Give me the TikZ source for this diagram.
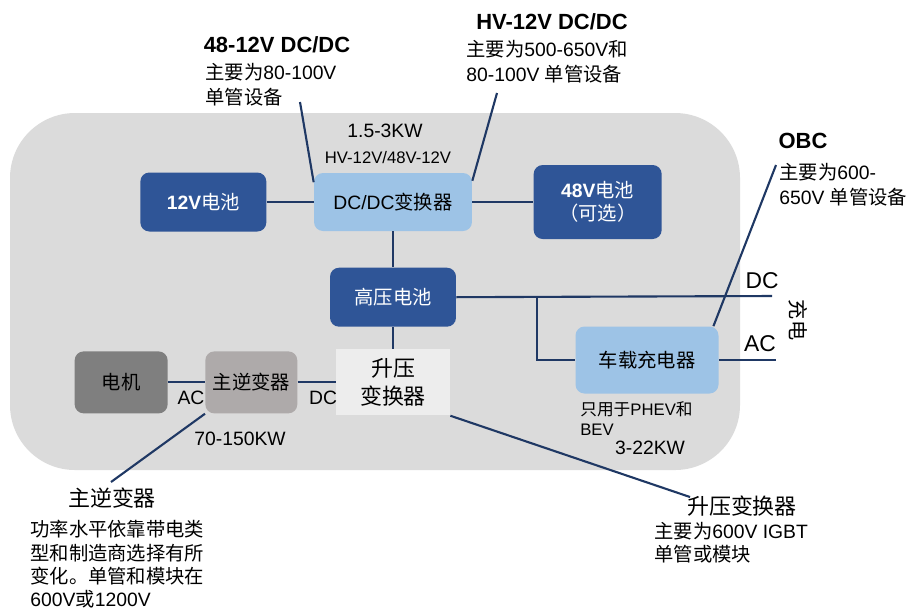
\documentclass[tikz,border=0pt]{standalone}
\usepackage{fontspec}
\setmainfont{Liberation Sans}
\newfontfamily\cjk{Noto Sans CJK SC}
\usepackage{xcolor}
\usepackage{tikz}
\usetikzlibrary{positioning}

\definecolor{boxblue}{HTML}{2F5597}
\definecolor{lightblue}{HTML}{9DC3E6}
\definecolor{bggray}{HTML}{DBDBDB}
\definecolor{boostgray}{HTML}{EDEDED}
\definecolor{invgray}{HTML}{AEAAAA}
\definecolor{motorgray}{HTML}{7F7F7F}
\definecolor{navy}{HTML}{1F3864}

\begin{document}
\begin{tikzpicture}[
    x=0.02cm, y=-0.02cm,
    font=\fontsize{11}{13}\selectfont,
    darkbox/.style={rectangle, rounded corners=0.18cm, fill=boxblue, text=white, align=center, inner sep=0pt},
    lightbox/.style={rectangle, rounded corners=0.18cm, fill=lightblue, align=center, inner sep=0pt},
    greybox/.style={rectangle, rounded corners=0.18cm, minimum height=1.24cm, inner sep=0pt},
    note/.style={align=left, inner sep=0pt, anchor=north west, font=\fontsize{11}{14}\selectfont},
    title/.style={font=\fontsize{12.5}{15}\selectfont\bfseries},
    cjktitle/.style={font=\cjk\fontsize{12.5}{15}\selectfont},
    wire/.style={draw=navy, line width=1.2pt}
]
\useasboundingbox (0,0) rectangle (908,610);

% vehicle outline
\fill[bggray, rounded corners=1.3cm] (10,113) rectangle (740,470);

% blocks
\node[lightbox, minimum width=3.16cm, minimum height=1.16cm] (dcdc) at (393,202) {DC/DC{\cjk 变换器}};
\node[darkbox, minimum width=2.52cm, minimum height=1.18cm, left=0.94cm of dcdc] (bat12) {{\bfseries 12V}{\cjk 电池}};
\node[darkbox, minimum width=2.56cm, minimum height=1.48cm, right=1.22cm of dcdc] (bat48) {{\bfseries 48V}{\cjk 电池}\\{\cjk （可选）}};
\node[darkbox, minimum width=2.52cm, minimum height=1.18cm, below=0.72cm of dcdc] (hvbat) {{\cjk 高压电池}};
\node[rectangle, fill=boostgray, minimum width=2.28cm, minimum height=1.32cm, align=center, inner sep=0pt,
      font=\cjk\fontsize{12.5}{16}\selectfont, below=0.44cm of hvbat] (boost) {升压\\变换器};
\node[greybox, fill=invgray, minimum width=1.84cm, left=0.76cm of boost] (inv) {{\cjk 主逆变器}};
\node[greybox, fill=motorgray, minimum width=1.86cm, left=0.74cm of inv] (motor) {{\cjk 电机}};
\node[lightbox, minimum width=2.86cm, minimum height=1.34cm] (obc) at (647,360) {{\cjk 车载充电器}};

% labels inside
\node (kw1) at (385,131) {1.5-3KW};
\node[font=\fontsize{9.5}{11}\selectfont] (kw2) at (388,158) {HV-12V/48V-12V};
\node (lac) at (191,398) {AC};
\node (ldc) at (323,398) {DC};
\node (kw3) at (240,439) {70-150KW};
\node[note, font=\fontsize{9.5}{11.3}\selectfont] (nphev) at (580,401) {{\cjk 只用于}PHEV{\cjk 和}\\BEV};
\node (kw4) at (650,448) {3-22KW};
\node[font=\fontsize{13}{15}\selectfont] (rdc) at (762,281) {DC};
\node[font=\fontsize{13}{15}\selectfont] (rac) at (760,344) {AC};
\node[rotate=-90, font=\cjk\fontsize{11.5}{13}\selectfont] (chg) at (798,320) {充电};

% notes
\node[title] (t4812) at (277,45) {48-12V DC/DC};
\node[note] (n4812) at (205,63) {{\cjk 主要为}80-100V\\{\cjk 单管设备}};
\node[title] (thv) at (552,22) {HV-12V DC/DC};
\node[note] (nhv) at (466,40) {{\cjk 主要为}500-650V{\cjk 和}\\80-100V {\cjk 单管设备}};
\node[title] (tobc) at (803,141) {OBC};
\node[note] (nobc) at (779,163) {{\cjk 主要为}600-\\650V {\cjk 单管设备}};
\node[cjktitle] (tinv) at (112,498) {主逆变器};
\node[note, font=\fontsize{11}{13.3}\selectfont] (ninv) at (30,520) {{\cjk 功率水平依靠带电类}\\{\cjk 型和制造商选择有所}\\{\cjk 变化。单管和模块在}\\600V{\cjk 或}1200V};
\node[cjktitle] (tboost) at (742,506) {升压变换器};
\node[note, font=\fontsize{11}{13.3}\selectfont] (nboost) at (654,522) {{\cjk 主要为}600V IGBT\\{\cjk 单管或模块}};

\coordinate (dcend) at (772,296);
\coordinate (acend) at (776,360);
\coordinate (br) at (537,296);
\coordinate (c4812) at (300,102);
\coordinate (chv) at (497,93);
\coordinate (cobc) at (776,165);
\coordinate (cinv) at (111,482);
\coordinate (cboost) at (690,497);

\draw[wire] (bat12) -- (dcdc);
\draw[wire] (dcdc) -- (bat48);
\draw[wire] (dcdc) -- (hvbat);
\draw[wire] (hvbat) -- (boost);
\draw[wire] (hvbat.east) -- (dcend);
\draw[wire] (br) |- (obc.west);
\draw[wire] (obc.east) -- (acend);
\draw[wire] (motor) -- (inv);
\draw[wire] (inv) -- (boost);
\draw[wire] (c4812) -- (dcdc.166);
\draw[wire] (chv) -- (dcdc.15);
\draw[wire] (cobc) -- (obc.27);
\draw[wire] (inv.south west) -- (cinv);
\draw[wire] (boost.south east) -- (cboost);

\end{tikzpicture}
\end{document}
